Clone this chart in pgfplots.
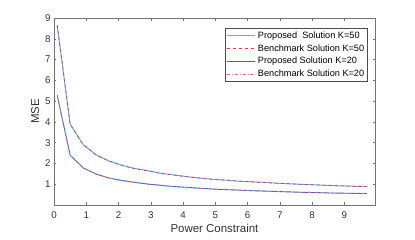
\documentclass[border=0pt]{standalone}
\usepackage{fontspec}
\setmainfont{Liberation Sans}
\usepackage{pgfplots}
\pgfplotsset{compat=1.18}
\definecolor{propfifty}{RGB}{90,175,235}
\definecolor{proptwenty}{RGB}{30,110,210}
\definecolor{benchfifty}{RGB}{240,50,70}
\definecolor{benchtwenty}{RGB}{255,95,110}
\definecolor{axgray}{rgb}{0.45,0.45,0.45}
\begin{document}
\begin{tikzpicture}
\begin{axis}[
  scale only axis,
  width=321bp, height=187bp,
  xmin=0, xmax=9.95, ymin=0, ymax=9,
  xtick={0,1,...,9}, ytick={1,2,...,9},
  tick align=inside,
  major tick length=2.5bp,
  axis line style={axgray, line width=0.6pt},
  tick style={axgray, line width=0.5pt},
  tick label style={font=\fontsize{9.8}{11}\selectfont, text=black!80},
  xticklabel style={yshift=-3bp},
  /pgf/number format/assume math mode=true,
  xlabel={Power Constraint}, ylabel={MSE},
  label style={font=\fontsize{11.5}{13}\selectfont, text=black!80},
  xlabel style={yshift=1bp},
  ylabel style={yshift=-1bp},
  legend style={at={(0.978,0.947)}, anchor=north east, draw=black!70, line width=0.5pt,
    font=\fontsize{9.2}{10}\selectfont, inner sep=1.5bp, row sep=0.6bp,
    legend cell align=left},
  legend image code/.code={\draw[#1] (0bp,0bp) -- (28bp,0bp);},
]
\addplot[draw=propfifty, line width=1pt] coordinates {
(0.1,8.65)(0.5,3.90)(0.9,2.92)(1.3,2.42)(1.7,2.12)(2.1,1.92)(2.5,1.76)(2.9,1.66)(3.3,1.53)(3.7,1.45)(4.1,1.37)(4.5,1.30)(4.9,1.24)(5.3,1.20)(5.7,1.15)(6.1,1.12)(6.5,1.09)(6.9,1.05)(7.3,1.02)(7.7,0.99)(8.1,0.97)(8.5,0.94)(8.9,0.92)(9.3,0.90)(9.7,0.89)};
\addlegendentry{Proposed\ \ Solution K=50}
\addplot[draw=benchfifty, line width=0.7pt, dashed] coordinates {
(0.1,8.65)(0.5,3.89)(0.9,2.90)(1.3,2.41)(1.7,2.11)(2.1,1.90)(2.5,1.74)(2.9,1.64)(3.3,1.52)(3.7,1.44)(4.1,1.36)(4.5,1.30)(4.9,1.23)(5.3,1.20)(5.7,1.15)(6.1,1.11)(6.5,1.08)(6.9,1.05)(7.3,1.02)(7.7,0.99)(8.1,0.97)(8.5,0.94)(8.9,0.92)(9.3,0.90)(9.7,0.88)};
\addlegendentry{Benchmark Solution K=50}
\addplot[draw=proptwenty, line width=0.9pt] coordinates {
(0.1,5.28)(0.5,2.40)(0.9,1.79)(1.3,1.49)(1.7,1.30)(2.1,1.18)(2.5,1.09)(2.9,1.01)(3.3,0.95)(3.7,0.89)(4.1,0.85)(4.5,0.81)(4.9,0.77)(5.3,0.74)(5.7,0.72)(6.1,0.69)(6.5,0.67)(6.9,0.65)(7.3,0.63)(7.7,0.61)(8.1,0.60)(8.5,0.58)(8.9,0.57)(9.3,0.56)(9.7,0.55)};
\addlegendentry{Proposed Solution K=20}
\addplot[draw=benchtwenty, line width=0.7pt, dash dot] coordinates {
(0.1,5.28)(0.5,2.40)(0.9,1.79)(1.3,1.49)(1.7,1.30)(2.1,1.17)(2.5,1.08)(2.9,1.00)(3.3,0.94)(3.7,0.88)(4.1,0.84)(4.5,0.80)(4.9,0.77)(5.3,0.74)(5.7,0.71)(6.1,0.69)(6.5,0.67)(6.9,0.65)(7.3,0.63)(7.7,0.61)(8.1,0.60)(8.5,0.58)(8.9,0.57)(9.3,0.56)(9.7,0.56)};
\addlegendentry{Benchmark Solution K=20}
\end{axis}
\pgfresetboundingbox
\path ([xshift=-54bp,yshift=-35bp]current axis.south west) rectangle ([xshift=40bp,yshift=18bp]current axis.north east);
\end{tikzpicture}
\end{document}
